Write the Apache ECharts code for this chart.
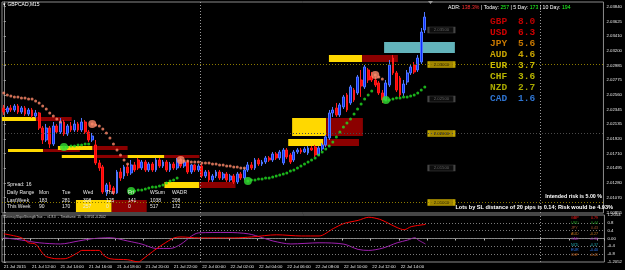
<!DOCTYPE html>
<html><head><meta charset="utf-8">
<script src="https://cdn.jsdelivr.net/npm/echarts@6/dist/echarts.min.js"></script>
<style>html,body{margin:0;padding:0;background:#000;}#c{width:625px;height:270px;}</style>
</head><body><div id="c"></div><script>
// ---------------- data ----------------
const NCAT = 170;
const timeLabels = ['21 Jul 2015','21 Jul 12:00','21 Jul 14:00','21 Jul 16:00','21 Jul 18:00','21 Jul 20:00','21 Jul 22:00',
  '22 Jul 00:00','22 Jul 02:00','22 Jul 04:00','22 Jul 06:00','22 Jul 08:00','22 Jul 10:00','22 Jul 12:00','22 Jul 14:00'];
// [open, close, low, high]
const candles = [
[2.02370,2.02312,2.02269,2.02414],[2.02312,2.02370,2.02283,2.02399],[2.02370,2.02341,2.02312,2.02414],[2.02341,2.02399,2.02312,2.02428],
[2.02399,2.02312,2.02283,2.02428],[2.02312,2.02370,2.02283,2.02399],[2.02370,2.02283,2.02254,2.02399],[2.02283,2.02341,2.02254,2.02370],
[2.02341,2.02254,2.02225,2.02370],[2.02254,2.02298,2.02225,2.02341],[2.02298,2.02080,2.02051,2.02312],[2.02080,2.01906,2.01848,2.02109],
[2.01906,2.02080,2.01877,2.02138],[2.02080,2.01848,2.01790,2.02109],[2.01848,2.02109,2.01819,2.02167],[2.02109,2.02022,2.01993,2.02138],
[2.02022,2.02167,2.01993,2.02225],[2.02167,2.01993,2.01964,2.02196],[2.01993,2.02109,2.01964,2.02138],[2.02109,2.02051,2.02022,2.02167],
[2.02051,2.02138,2.02022,2.02196],[2.02138,2.02051,2.02022,2.02167],[2.02051,2.02167,2.02022,2.02225],[2.02167,2.02022,2.01993,2.02196],
[2.02022,2.01906,2.01877,2.02051],[2.01906,2.01964,2.01877,2.02008],[2.01834,2.01573,2.01544,2.01906],[2.01573,2.01500,2.01457,2.01616],
[2.01515,2.01152,2.01123,2.01544],[2.01152,2.01254,2.01094,2.01283],[2.01254,2.01181,2.01152,2.01297],[2.01210,2.01138,2.01109,2.01239],
[2.01138,2.01442,2.01123,2.01471],[2.01442,2.01355,2.01312,2.01500],[2.01384,2.01515,2.01341,2.01544],[2.01515,2.01428,2.01384,2.01558],
[2.01428,2.01544,2.01399,2.01616],[2.01544,2.01471,2.01442,2.01587],[2.01616,2.01500,2.01471,2.01645],[2.01500,2.01587,2.01471,2.01616],
[2.01587,2.01471,2.01442,2.01616],[2.01471,2.01558,2.01442,2.01587],[2.01558,2.01471,2.01442,2.01587],[2.01471,2.01616,2.01442,2.01645],
[2.01616,2.01529,2.01500,2.01645],[2.01529,2.01587,2.01500,2.01616],[2.01587,2.01471,2.01442,2.01616],[2.01471,2.01558,2.01442,2.01587],
[2.01558,2.01500,2.01471,2.01587],[2.01500,2.01616,2.01471,2.01645],[2.01616,2.01529,2.01500,2.01645],[2.01529,2.01587,2.01500,2.01616],
[2.01587,2.01442,2.01413,2.01616],[2.01442,2.01544,2.01413,2.01558],[2.01544,2.01471,2.01442,2.01558],[2.01471,2.01529,2.01442,2.01558],
[2.01529,2.01384,2.01355,2.01558],[2.01384,2.01442,2.01355,2.01471],[2.01442,2.01326,2.01297,2.01471],[2.01326,2.01384,2.01297,2.01413],
[2.01384,2.01442,2.01355,2.01471],[2.01442,2.01355,2.01326,2.01471],[2.01355,2.01413,2.01326,2.01442],[2.01413,2.01326,2.01297,2.01442],
[2.01326,2.01384,2.01297,2.01413],[2.01384,2.01297,2.01268,2.01413],[2.01297,2.01413,2.01268,2.01442],[2.01413,2.01355,2.01326,2.01442],
[2.01355,2.01471,2.01326,2.01500],[2.01471,2.01544,2.01442,2.01587],[2.01544,2.01500,2.01471,2.01587],[2.01500,2.01616,2.01471,2.01645],
[2.01616,2.01558,2.01529,2.01645],[2.01558,2.01587,2.01529,2.01616],[2.01587,2.01645,2.01558,2.01674],[2.01645,2.01616,2.01587,2.01674],
[2.01616,2.01703,2.01587,2.01732],[2.01703,2.01645,2.01616,2.01732],[2.01645,2.01732,2.01616,2.01761],[2.01573,2.01761,2.01544,2.01790],
[2.01761,2.01660,2.01631,2.01790],[2.01689,2.01587,2.01558,2.01718],[2.01616,2.01732,2.01587,2.01761],[2.01732,2.01761,2.01703,2.01790],
[2.01761,2.01732,2.01703,2.01790],[2.01732,2.01776,2.01718,2.01805],[2.01718,2.01790,2.01689,2.01819],[2.01790,2.01761,2.01747,2.01819],
[2.01805,2.01689,2.01660,2.01834],[2.01689,2.01790,2.01689,2.01819],[2.01776,2.01834,2.01747,2.01863],[2.01834,2.01950,2.01805,2.01979],
[2.01935,2.02298,2.01906,2.02341],[2.02298,2.02341,2.02240,2.02385],[2.02370,2.02269,2.02240,2.02443],[2.02269,2.02414,2.02240,2.02443],
[2.02385,2.02530,2.02355,2.02559],[2.02559,2.02341,2.02312,2.02588],[2.02443,2.02675,2.02414,2.02704],[2.02631,2.02486,2.02457,2.02660],
[2.02588,2.02820,2.02559,2.02849],[2.02776,2.02689,2.02530,2.02921],[2.02675,2.02965,2.02646,2.02994],[2.02921,2.02776,2.02733,2.02950],
[2.02834,2.02776,2.02747,2.02892],[2.02776,2.02704,2.02675,2.02820],[2.02733,2.02588,2.02559,2.02762],[2.02588,2.02486,2.02443,2.02631],
[2.02486,2.02733,2.02472,2.02776],[2.02704,2.02994,2.02675,2.03066],[2.03095,2.02878,2.02849,2.03139],[2.02878,2.02631,2.02602,2.02907],
[2.02805,2.02559,2.02530,2.02834],[2.02588,2.02718,2.02544,2.02776],[2.02747,2.02878,2.02704,2.02921],[2.02878,2.02965,2.02849,2.03008],
[2.02994,2.02892,2.02863,2.03037],[2.02921,2.03095,2.02892,2.03139],[2.03037,2.03472,2.03008,2.03530],[2.03501,2.03689,2.03457,2.03762]
];
const currentPrice = 2.03689;
// parabolic SAR dots (null = not drawn)
const sarDown = [2.02588,2.02559,2.02544,2.02530,2.02530,2.02515,2.02515,2.02501,2.02501,2.02472,2.02443,2.02399,2.02355,2.02298,2.02254,2.02211,2.02167,
 null,null,null,null,null,null,null,null,
 2.02138,2.02124,2.02109,2.02066,2.02008,2.01935,2.01848,2.01761,2.01689,2.01616,2.01558,
 null,null,null,null,null,null,null,null,null,null,null,null,null,null,
 2.01616,2.01602,2.01602,2.01587,2.01587,2.01587,2.01573,2.01573,2.01573,2.01558,2.01558,2.01544,2.01544,2.01529,2.01529,2.01515,2.01515,2.01500,2.01500,
 null,null,null,null,null,null,null,null,null,null,null,null,null,null,null,null,null,null,null,null,null,null,null,null,null,null,null,null,null,null,null,null,null,null,null,null,
 2.02849,2.02820,2.02790,
 null,null,null,null,null,null,null,null,null,null,null,null];
const sarUp = [null,null,null,null,null,null,null,null,null,null,null,null,null,null,null,null,null,
 2.01805,2.01805,2.01819,2.01819,2.01834,2.01834,2.01848,2.01848,
 null,null,null,null,null,null,null,null,null,null,null,
 2.01167,2.01167,2.01181,2.01181,2.01196,2.01210,2.01225,2.01225,2.01239,2.01254,2.01283,2.01312,2.01326,2.01355,
 null,null,null,null,null,null,null,null,null,null,null,null,null,null,null,null,null,null,null,
 2.01312,2.01326,2.01326,2.01341,2.01341,2.01355,2.01355,2.01370,2.01384,2.01399,2.01413,2.01428,2.01457,2.01471,2.01500,2.01529,2.01558,2.01587,
 2.01616,2.01645,2.01689,2.01732,2.01776,2.01819,2.01877,2.01950,2.02022,2.02095,2.02153,2.02211,2.02283,2.02355,2.02428,2.02501,2.02559,2.02617,
 null,null,null,
 2.02486,2.02486,2.02501,2.02515,2.02515,2.02530,2.02530,2.02544,2.02559,2.02588,2.02631,2.02675];
const flipDownBars = [25, 50, 105];
const flipUpBars = [17, 36, 69, 108];
// supply/demand zones: yellow part x0..x1, dark red part x1..x2 (bar units)
const zoneX0 = [-0.5, 1.2, 15.3, 16.4, 35.0, 45.4, 20.4, 81.5, 80.4, 91.9];
const zoneX1 = [9.1, 11.1, 25.1, 26.3, 45.4, 55.3, 30.5, 91.1, 90.3, 101.3];
const zoneX2 = [19.2, 21.5, 35.0, 35.0, 55.3, 65.5, 40.4, 101.5, 100.4, 111.4];
const zoneTop = [2.02240, 2.01776, 2.01819, 2.01689, 2.01689, 2.01297, 2.01036, 2.02225, 2.01921, 2.03139];
const zoneBot = [2.02182, 2.01732, 2.01761, 2.01645, 2.01645, 2.01210, 2.00862, 2.01964, 2.01819, 2.03037];
const tealX = [107.5, 127.5];
const tealY = [2.03327, 2.03168];
const levels = [2.035, 2.030, 2.025, 2.020, 2.015, 2.010];
const levelLabelBar = 123.7;
const daySeparators = [55.5, 151.5];
const priceTicks = [2.00855,2.01070,2.01280,2.01495,2.01710,2.01920,2.02135,2.02345,2.02560,2.02775,2.02985,2.03200,2.03410,2.03625,2.03840];
// currency slope strength indicator (sparse readings: [bar, value])
const cssGBP = [[0,0.24],[5,0.04],[7,-0.22],[9,-0.29],[11,-0.77],[12,-0.93],[15,-1.04],[17,-1.04],[21,-0.72],[22,-0.61],[27,-0.61],[28,-0.83],[30,-1.04],
 [35,-1.09],[38,-1.20],[39,-1.09],[42,-0.67],[45,-0.29],[48,0.03],[50,0.08],[55,0.03],[65,0.03],[70,0.08],[77,0.19],[84,0.13],[89,0.13],[93,0.51],
 [96,0.77],[100,0.93],[103,1.09],[106,0.99],[108,0.83],[111,0.56],[113,0.45],[115,0.61],[119,0.72]];
const cssCAD = [[0,0.04],[5,-0.08],[10,-0.22],[16,-0.28],[21,-0.13],[25,-0.01],[30,0.04],[35,-0.13],[39,-0.29],[43,-0.51],[47,-0.51],[50,-0.29],
 [53,0.13],[55,0.29],[63,0.31],[69,0.24],[73,0.04],[76,-0.13],[81,-0.28],[89,-0.22],[96,-0.29],[100,-0.56],[103,-0.61],[107,-0.49],[111,-0.22],
 [114,-0.08],[116,0.04],[117,-0.08],[119,-0.28]];
const indLevels = [0.8, 0.4, 0, -0.4, -0.8];
const indTicks = [1.2054, 0.8, 0.4, 0, -0.4, -0.8, -1.2052];
const indTickText = ['1.2054','0.8','0.4','0.00','-0.4','-0.8','-1.2052'];
const strengthNames = ['GBP','USD','JPY','AUD','EUR','CHF','NZD','CAD'];
const strengthValues = ['8.0','6.3','5.6','4.6','3.7','3.6','2.7','1.6'];
const cssNames = ['GBP','USD','JPY','AUD','CAD','NZD','EUR','CHF'];
const cssValues = ['0.79','0.44','0.43','-0.27','-0.30','-0.37','-0.40','-0.41'];
const rangeHeads = ['Daily Range','Mon','Tue','Wed','Thu','Fri','WSum','WADR'];
const lastWeek = ['LastWeek','183','281','308','125','141','1038','208'];
const thisWeek = ['This Week','90','170','257','0','0','517','172'];
const adr = {pct:'138.3%', today:'257', d5:'173', d10:'194'};

// ---------------- build ----------------
const cats = [];
for (let i = 0; i < NCAT; i++) cats.push(i % 8 === 0 && timeLabels[i/8] ? timeLabels[i/8] : '');
const candleData = cats.map((c, i) => candles[i] ? candles[i] : '-');
const F = 'Liberation Sans';
const sarDot = (arr) => arr.map((v, i) => v == null ? null : [i, v]).filter(Boolean);
const bigDots = (bars, arr) => bars.map(b => [b, arr[b]]);

const zoneAreas = [];
for (let k = 0; k < zoneX0.length; k++) {
  zoneAreas.push([{xAxis: zoneX0[k], yAxis: zoneTop[k], itemStyle: {color: '#ffd800'}}, {xAxis: zoneX1[k], yAxis: zoneBot[k]}]);
  zoneAreas.push([{xAxis: zoneX1[k], yAxis: zoneTop[k], itemStyle: {color: '#8b0000'}}, {xAxis: zoneX2[k], yAxis: zoneBot[k]}]);
}
zoneAreas.push([{xAxis: tealX[0], yAxis: tealY[0], itemStyle: {color: '#63b4bb'}}, {xAxis: tealX[1], yAxis: tealY[1]}]);

const isRound = v => Math.abs(v * 100 - Math.round(v * 100)) < 1e-6;
const levelLines = levels.map(v => ({yAxis: v, lineStyle: {color: isRound(v) ? '#8c7a00' : '#4a4a4a', type: [1, 2], width: 1}}));
const levelBoxes = levels.map(v => ({value: [levelLabelBar, v],
  itemStyle: {color: isRound(v) ? '#c9a800' : '#111', borderColor: isRound(v) ? '#e0c000' : '#555', borderWidth: 1},
  label: {color: isRound(v) ? '#000' : '#777'}}));

const chart = echarts.init(document.getElementById('c'), null, {renderer: 'canvas'});
const option = {
  backgroundColor: '#000',
  animation: false,
  grid: [
    {left: 2, top: 2, width: 603, height: 211, show: true, borderColor: '#8a8a8a', borderWidth: 1},
    {left: 2, top: 215, width: 603, height: 47, show: true, borderColor: '#8a8a8a', borderWidth: 1}
  ],
  xAxis: [
    {type: 'category', gridIndex: 0, data: cats, boundaryGap: true, show: false},
    {type: 'value', gridIndex: 0, min: -0.5, max: NCAT - 0.5, show: false},
    {type: 'category', gridIndex: 1, data: cats, boundaryGap: true,
      axisLine: {show: true, lineStyle: {color: '#8a8a8a'}},
      axisTick: {show: true, length: 2, interval: (i) => i % 8 === 0, lineStyle: {color: '#bbb'}},
      axisLabel: {interval: 0, align: 'left', fontSize: 4.3, color: '#e8e8e8', margin: 2.5, fontFamily: F}},
    {type: 'value', gridIndex: 1, min: -0.5, max: NCAT - 0.5, show: false}
  ],
  yAxis: [
    {type: 'value', gridIndex: 0, position: 'right', min: 2.00847, max: 2.03907, scale: true,
      axisLine: {show: true, lineStyle: {color: '#8a8a8a'}},
      axisTick: {show: true, length: 2, customValues: priceTicks, lineStyle: {color: '#aaa'}},
      axisLabel: {customValues: priceTicks, formatter: v => v.toFixed(5), fontSize: 4.3, color: '#e8e8e8', margin: 3, fontFamily: F},
      splitLine: {show: false}},
    {type: 'value', gridIndex: 1, position: 'right', min: -1.2052, max: 1.2054,
      axisLine: {show: true, lineStyle: {color: '#8a8a8a'}},
      axisTick: {show: true, length: 2, customValues: indTicks, lineStyle: {color: '#aaa'}},
      axisLabel: {customValues: indTicks, formatter: v => indTickText[indTicks.findIndex(t => Math.abs(t - v) < 1e-6)] ?? '', fontSize: 4.3, color: '#e8e8e8', margin: 3, fontFamily: F},
      splitLine: {show: false}}
  ],
  series: [
    {type: 'scatter', xAxisIndex: 1, yAxisIndex: 0, data: [], z: 1, silent: true,
      markArea: {silent: true, data: zoneAreas},
      markLine: {silent: true, symbol: 'none', label: {show: false},
        data: levelLines.concat(daySeparators.map(x => ({xAxis: x, lineStyle: {color: '#9a9a9a', type: [1, 2], width: 1}})))}},
    {type: 'candlestick', xAxisIndex: 0, yAxisIndex: 0, data: candleData, barWidth: 2.3, z: 3,
      itemStyle: {color: '#0a2cff', color0: '#ff0000', borderColor: '#4f78ff', borderColor0: '#ff1a1a', borderWidth: 1},
      markLine: {silent: true, symbol: 'none',
        data: [{yAxis: currentPrice, lineStyle: {color: '#8c8c8c', type: 'solid', width: 1},
          label: {show: true, position: 'end', distance: 1, formatter: currentPrice.toFixed(5), backgroundColor: '#fff', color: '#000',
            fontSize: 4.3, padding: [1, 1, 0, 1], fontFamily: F}}]}},
    {type: 'scatter', xAxisIndex: 1, yAxisIndex: 0, data: levelBoxes, symbol: 'rect', symbolSize: [26, 6], z: 4,
      label: {show: true, position: 'inside', formatter: p => p.value[1].toFixed(5), fontSize: 4.3, fontFamily: F}},
    {type: 'scatter', xAxisIndex: 1, yAxisIndex: 0, data: sarDot(sarDown), symbol: 'circle', symbolSize: 3, z: 5,
      itemStyle: {color: '#ff8a6a'}},
    {type: 'scatter', xAxisIndex: 1, yAxisIndex: 0, data: sarDot(sarUp), symbol: 'circle', symbolSize: 3, z: 5,
      itemStyle: {color: '#22dd22'}},
    {type: 'scatter', xAxisIndex: 1, yAxisIndex: 0, data: bigDots(flipDownBars, sarDown), symbol: 'circle', symbolSize: 8, z: 6,
      itemStyle: {color: '#ff8a6a'}},
    {type: 'scatter', xAxisIndex: 1, yAxisIndex: 0, data: bigDots(flipUpBars, sarUp), symbol: 'circle', symbolSize: 8, z: 6,
      itemStyle: {color: '#33dd33'}},
    // indicator panel
    {type: 'line', xAxisIndex: 3, yAxisIndex: 1, data: [], z: 1,
      markLine: {silent: true, symbol: 'none', label: {show: false},
        data: indLevels.map(v => ({yAxis: v, lineStyle: {color: '#7a7a7a', type: [1, 2], width: 1}}))
          .concat(daySeparators.map(x => ({xAxis: x, lineStyle: {color: '#9a9a9a', type: [1, 2], width: 1}})))}},
    {type: 'line', xAxisIndex: 3, yAxisIndex: 1, data: cssCAD, showSymbol: false, smooth: 0.3, z: 3,
      lineStyle: {color: '#a020b0', width: 1}},
    {type: 'line', xAxisIndex: 3, yAxisIndex: 1, data: cssGBP, showSymbol: false, smooth: 0.3, z: 4,
      lineStyle: {color: '#ff0000', width: 1}}
  ],
  graphic: []
};

const g = option.graphic;
const txt = (x, y, text, opts) => g.push(Object.assign({type: 'text', x, y, z: 100, silent: true,
  style: Object.assign({text, fill: '#fff', font: `5px ${F}`, textVerticalAlign: 'middle'}, opts || {})}));
txt(3, 5, '\u25BE GBPCAD,M15', {font: `5px ${F}`});
g.push({type: 'polygon', z: 100, silent: true, shape: {points: [[428, 1], [433, 1], [430.5, 4]]}, style: {fill: '#9a9a9a'}});
g.push({type: 'text', x: 448, y: 8, z: 100, silent: true, style: {
  text: `{w|ADR: }{r|${adr.pct}}{w| | Today: }{g|${adr.today}}{w| | 5 Day: }{g|${adr.d5}}{w| | 10 Day: }{g|${adr.d10}}`,
  textVerticalAlign: 'middle', font: `5.2px ${F}`,
  rich: {w: {fill: '#fff', font: `5.2px ${F}`}, r: {fill: '#ff3030', font: `5.2px ${F}`}, g: {fill: '#22ff22', font: `5.2px ${F}`}}}});
const sCol = ['#c00000','#d40000','#c87800','#c8a400','#c8b800','#b8b400','#a8a800','#2f74d0'];
strengthNames.forEach((n, k) => {
  txt(490, 22 + 11 * k, n, {fill: sCol[k], font: `bold 9.5px 'Liberation Mono'`});
  txt(518, 22 + 11 * k, strengthValues[k], {fill: sCol[k], font: `bold 9.5px 'Liberation Mono'`});
});
const colX = [7, 39, 62, 83, 106, 128, 150, 172];
txt(7, 185, 'Spread: 16', {fill: '#e8e8e8'});
rangeHeads.forEach((t, k) => txt(colX[k], 193, t, {fill: '#e8e8e8'}));
lastWeek.forEach((t, k) => txt(colX[k], 200.5, t, {fill: '#e8e8e8'}));
thisWeek.forEach((t, k) => txt(colX[k], 206.5, t, {fill: '#e8e8e8'}));
txt(602, 197, 'Intended risk is 5.00 %', {textAlign: 'right', font: `bold 5.3px ${F}`});
txt(613, 207, 'Lots by SL distance of 20 pips is 0.14; Risk would be 4.93%', {textAlign: 'right', font: `bold 5.6px ${F}`});
txt(3, 217.5, 'CurrencySlopeStrengthTrue  -  v1.8.0  -  Timeframe: 15    0.3701 -0.2502', {fill: '#d0d0d0', font: `3.2px ${F}`});
const cCol = ['#ff1a1a','#1fa01f','#a0522d','#c8781e','#a020b0','#20a8b0','#2f7fff','#d2691e'];
cssNames.forEach((n, k) => {
  txt(571, 217.5 + 5.4 * k, n, {fill: cCol[k], font: `3.6px ${F}`});
  txt(598, 217.5 + 5.4 * k, cssValues[k], {fill: cCol[k], font: `3.6px ${F}`, textAlign: 'right'});
});

chart.setOption(option);
</script></body></html>
